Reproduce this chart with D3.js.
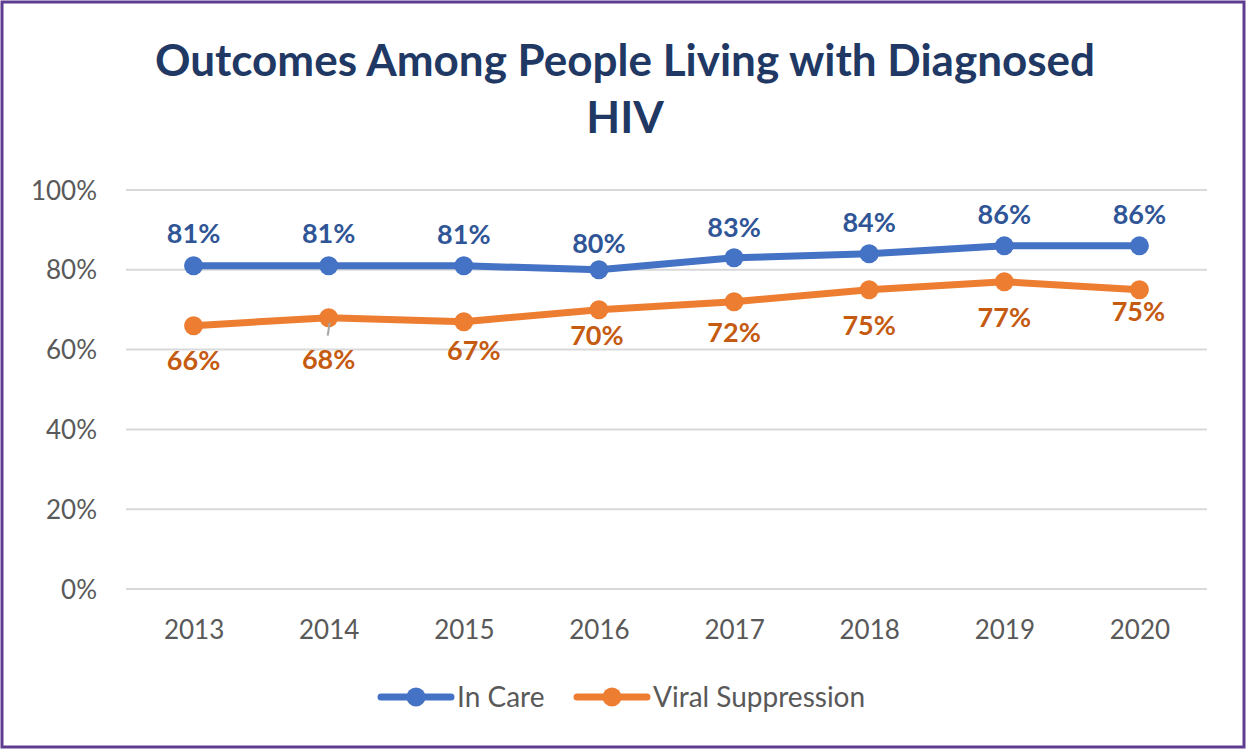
<!DOCTYPE html>
<html><head><meta charset="utf-8">
<script src="https://cdn.jsdelivr.net/npm/d3@7"></script>
<style>body{margin:0;background:#fff}svg{display:block}</style>
</head><body>
<script>
const years = ["2013","2014","2015","2016","2017","2018","2019","2020"];
const inCare = [81,81,81,80,83,84,86,86];
const viralSuppression = [66,68,67,70,72,75,77,75];
const yTicks = [0,20,40,60,80,100];
const seriesNames = ["In Care","Viral Suppression"];
// label layout offsets (px)
const inCareLabelDy = [-32,-32,-31,-26,-30,-31,-31,-31];
const vsLabelDy = [35,42,29,26,31,36,36,22];
const vsLabelDx = [0,0,10,-2,0,0,0,-1];

const W=1247,H=750;
const svg=d3.select("body").append("svg").attr("width",W).attr("height",H);
svg.append("rect").attr("x",0).attr("y",0).attr("width",W).attr("height",H).attr("fill","#fff");
svg.append("rect").attr("x",2).attr("y",2).attr("width",W-5).attr("height",H-5)
  .attr("fill","none").attr("stroke","#5E3C8F").attr("stroke-width",3);

const font="Lato, 'Open Sans', sans-serif";
const title=svg.append("text").attr("text-anchor","middle").attr("fill","#1F3864")
  .attr("font-family",font).attr("font-weight","bold").attr("font-size",44);
title.append("tspan").attr("x",625).attr("y",76).text("Outcomes Among People Living with Diagnosed");
title.append("tspan").attr("x",625).attr("y",133).text("HIV");

const x=d3.scalePoint().domain(years).range([126,1207]).padding(0.5);
const y=d3.scaleLinear().domain([0,100]).range([589,190]);

const grid=svg.append("g");
grid.selectAll("line").data(yTicks).join("line")
  .attr("x1",126).attr("x2",1207).attr("y1",d=>y(d)).attr("y2",d=>y(d))
  .attr("stroke","#D9D9D9").attr("stroke-width",2);

const yAxis=svg.append("g").attr("transform","translate(97,0)")
  .call(d3.axisLeft(y).tickValues(yTicks).tickFormat(d=>d+"%").tickSize(0));
yAxis.select(".domain").remove();
yAxis.selectAll("text").attr("font-family",font).attr("font-size",26).attr("fill","#595959").attr("dy","0.35em").attr("x",0);

const xAxis=svg.append("g").attr("transform","translate(0,630)")
  .call(d3.axisBottom(x).tickSize(0));
xAxis.select(".domain").remove();
xAxis.selectAll("text").attr("font-family",font).attr("font-size",26).attr("fill","#595959").attr("dy","0.35em").attr("y",0);

const series=[
  {name:seriesNames[0],vals:inCare,color:"#4472C4",lab:"#2F5597",dy:inCareLabelDy,dx:years.map(()=>0)},
  {name:seriesNames[1],vals:viralSuppression,color:"#ED7D31",lab:"#C55A11",dy:vsLabelDy,dx:vsLabelDx}
];
const line=d3.line().x((d,i)=>x(years[i])).y(d=>y(d));
series.forEach(s=>{
  svg.append("path").attr("d",line(s.vals)).attr("fill","none").attr("stroke",s.color)
    .attr("stroke-width",7).attr("stroke-linejoin","round").attr("stroke-linecap","round");
  svg.append("g").selectAll("circle").data(s.vals).join("circle")
    .attr("cx",(d,i)=>x(years[i])).attr("cy",d=>y(d)).attr("r",9.5).attr("fill",s.color);
});
// leader line for 2014 viral suppression label
svg.append("line").attr("x1",x("2014")+1).attr("y1",y(viralSuppression[1])+5)
  .attr("x2",x("2014")-1).attr("y2",y(viralSuppression[1])+18)
  .attr("stroke","#A6A6A6").attr("stroke-width",2);
series.forEach(s=>{
  svg.append("g").selectAll("text").data(s.vals).join("text")
    .attr("x",(d,i)=>x(years[i])+s.dx[i]).attr("y",(d,i)=>y(d)+s.dy[i])
    .attr("dy","0.35em").attr("text-anchor","middle")
    .attr("font-family",font).attr("font-weight","bold").attr("font-size",27)
    .attr("fill",s.lab).text(d=>d+"%");
});

// legend
const legend=[{name:seriesNames[0],color:"#4472C4",x0:381},{name:seriesNames[1],color:"#ED7D31",x0:577}];
const lg=svg.append("g");
legend.forEach(l=>{
  lg.append("line").attr("x1",l.x0).attr("x2",l.x0+70).attr("y1",697).attr("y2",697)
    .attr("stroke",l.color).attr("stroke-width",7).attr("stroke-linecap","round");
  lg.append("circle").attr("cx",l.x0+35).attr("cy",697).attr("r",9.5).attr("fill",l.color);
  lg.append("text").attr("x",l.x0+76).attr("y",697).attr("dy","0.35em")
    .attr("font-family",font).attr("font-size",28).attr("fill","#595959").text(l.name);
});
</script>
</body></html>
